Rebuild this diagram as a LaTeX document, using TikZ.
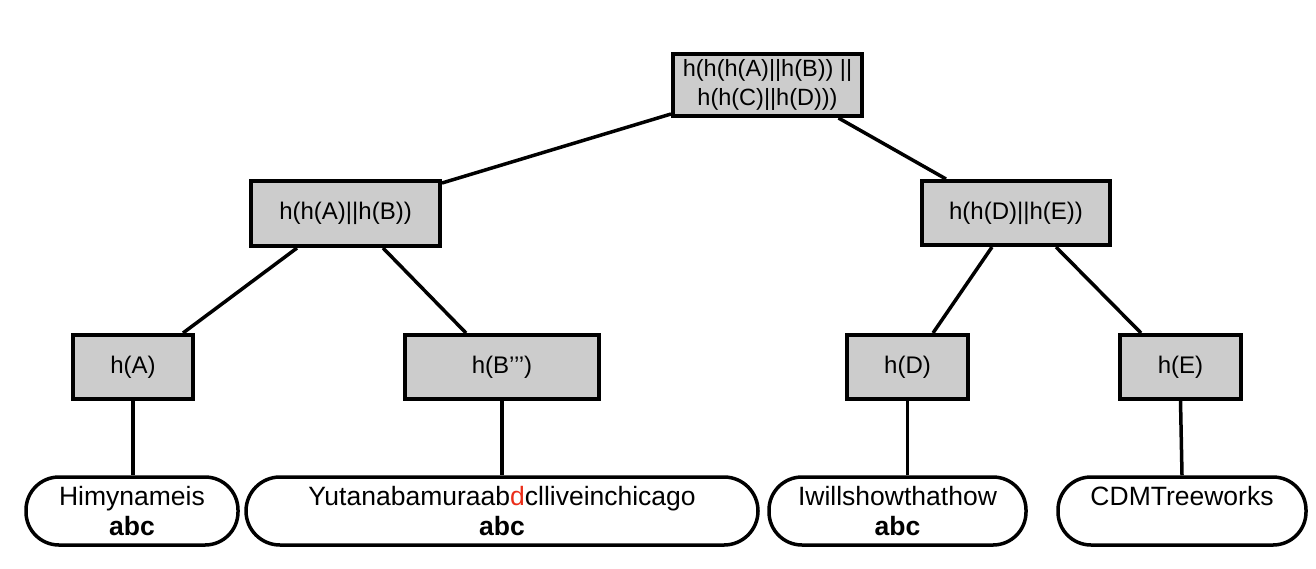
\documentclass[tikz,border=0pt]{standalone}
\usepackage{fontspec}
\setmainfont{Liberation Sans}
\definecolor{boxgray}{RGB}{204,204,204}
\definecolor{hlred}{RGB}{235,45,25}
\begin{document}
\begin{tikzpicture}[x=1pt,y=-1pt,
  hbox/.style={draw=black, line width=4pt, fill=boxgray, inner sep=0pt,
    align=center, font=\fontsize{24}{29}\selectfont},
  leaf/.style={draw=black, line width=3.5pt, fill=white, rounded corners=33pt,
    inner sep=0pt, align=center, font=\fontsize{26.5}{30}\selectfont},
  conn/.style={draw=black, line width=3.5pt}]
\useasboundingbox (0,0) rectangle (1316,568);
% hash boxes
\node[hbox, minimum width=189pt, minimum height=62pt, font=\fontsize{23.5}{29}\selectfont] (root) at (767.5,85) {h(h(h(A)||h(B)) ||\\h(h(C)||h(D)))};
\node[hbox, minimum width=189pt, minimum height=65pt] (L) at (345.5,213.5) {h(h(A)||h(B))};
\node[hbox, minimum width=188pt, minimum height=64pt] (R) at (1016,213) {h(h(D)||h(E))};
\node[hbox, minimum width=120pt, minimum height=64pt] (A) at (133,367) {h(A)};
\node[hbox, minimum width=194pt, minimum height=64pt] (B) at (502,367) {h(B’’’)};
\node[hbox, minimum width=121pt, minimum height=64pt] (D) at (907.5,367) {h(D)};
\node[hbox, minimum width=121pt, minimum height=64pt] (E) at (1180.5,367) {h(E)};
% leaves
\node[leaf, minimum width=212pt, minimum height=68pt] (l1) at (132,511) {Himynameis\\\textbf{abc}};
\node[leaf, minimum width=512pt, minimum height=68pt, rounded corners=34pt] (l2) at (502,511) {Yutanabamuraab{\color{hlred}d}clliveinchicago\\\textbf{abc}};
\node[leaf, minimum width=257pt, minimum height=68pt] (l3) at (897.5,511) {Iwillshowthathow\\\textbf{abc}};
\node[leaf, minimum width=248pt, minimum height=68pt] (l4) at (1182,511) {CDMTreeworks\\\phantom{\textbf{abc}}};
% connectors
\draw[conn] ([yshift=4pt]root.south west) -- ([yshift=-4pt]L.north east);
\draw[conn] ([xshift=71pt]root.south) -- ([xshift=-70pt]R.north);
\draw[conn] ([xshift=-48.5pt]L.south) -- ([xshift=50pt]A.north);
\draw[conn] ([xshift=37.5pt]L.south) -- ([xshift=-36pt]B.north);
\draw[conn] ([xshift=-24pt]R.south) -- ([xshift=25.5pt]D.north);
\draw[conn] ([xshift=40pt]R.south) -- ([xshift=-39.5pt]E.north);
\draw[conn] (A.south) -- (A.south |- l1.north);
\draw[conn] (B.south) -- (B.south |- l2.north);
\draw[conn] (D.south) -- (D.south |- l3.north);
\draw[conn] (E.south) -- (l4.north);
\end{tikzpicture}
\end{document}
